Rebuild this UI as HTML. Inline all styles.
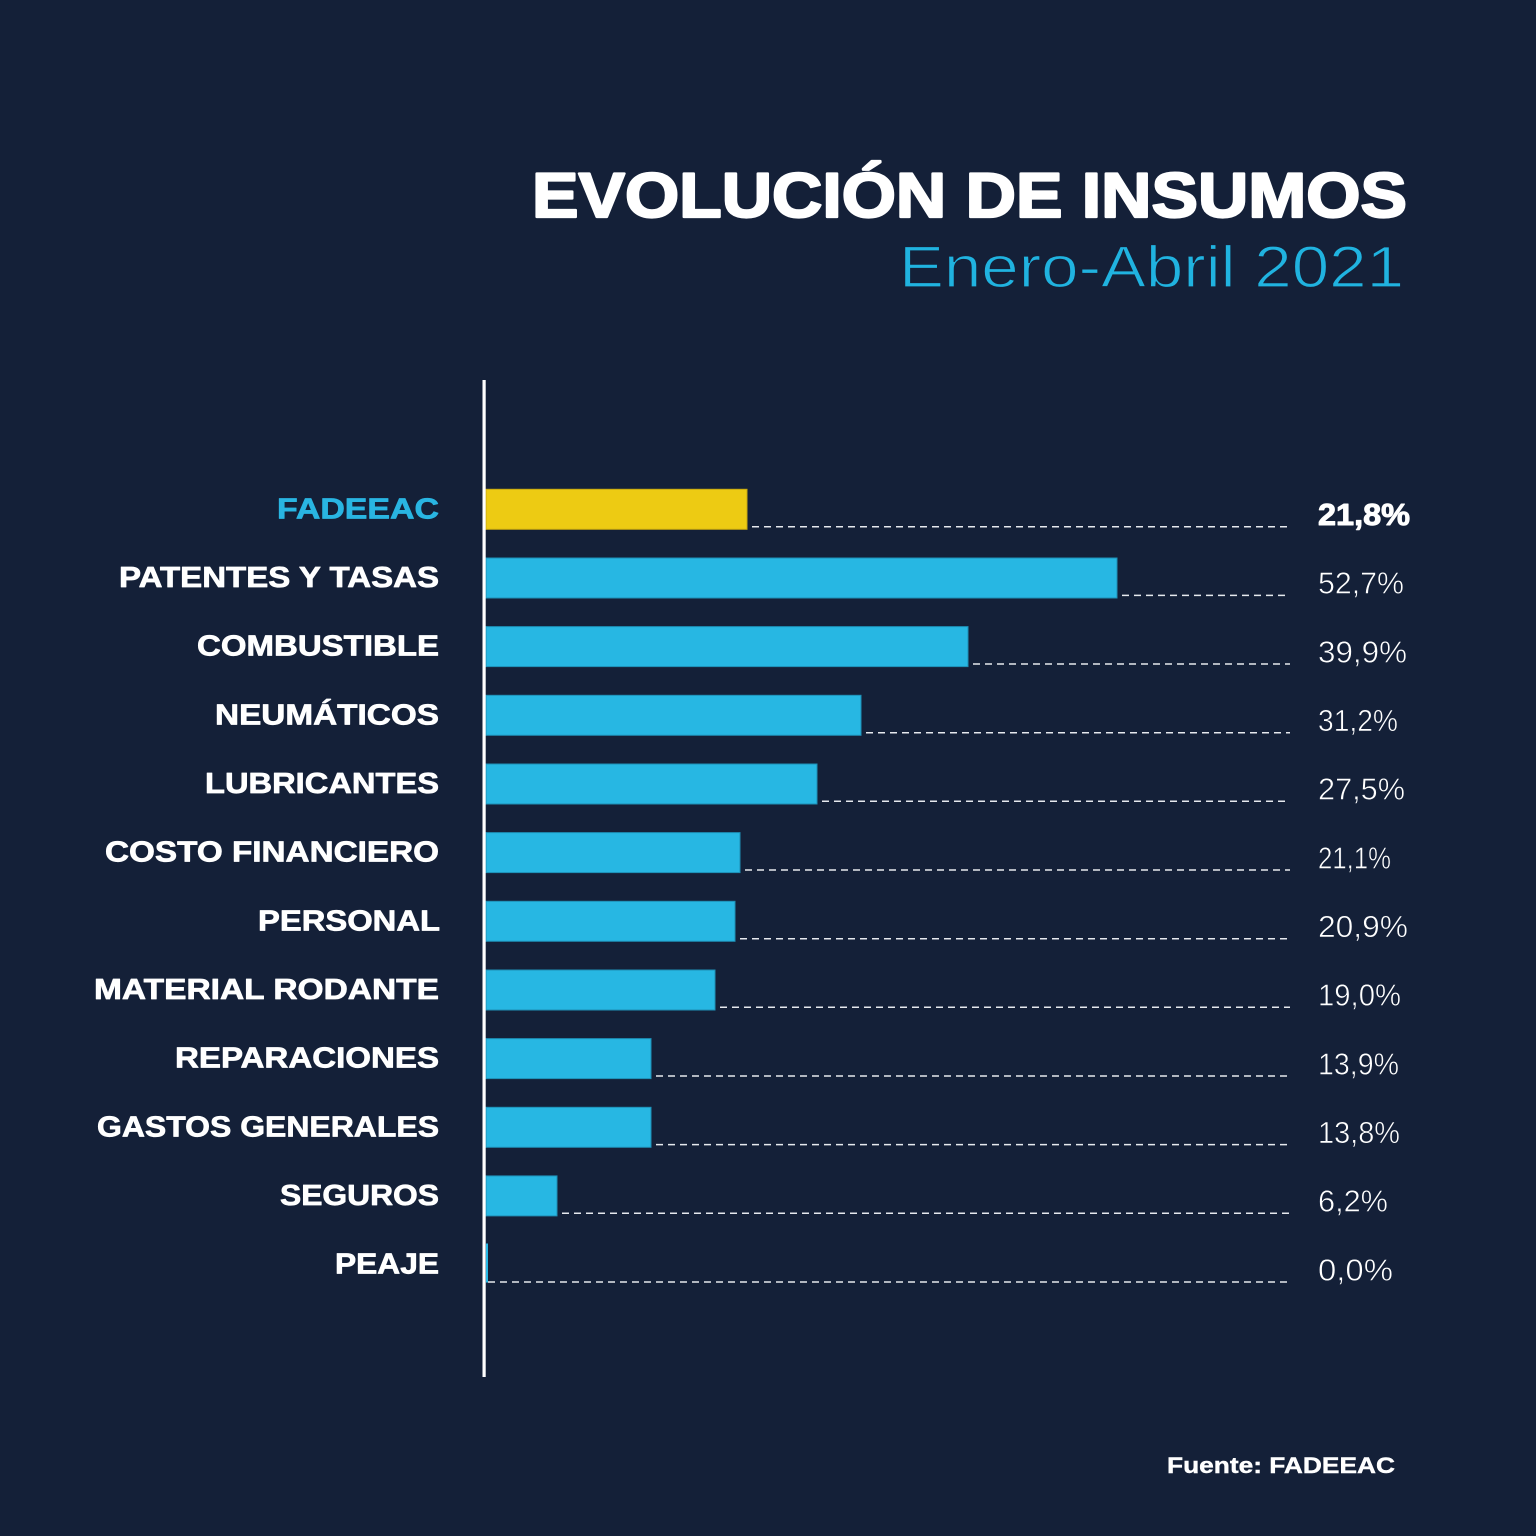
<!DOCTYPE html>
<html>
<head>
<meta charset="utf-8">
<style>
  html,body{margin:0;padding:0;background:#142038;}
  svg{display:block;}
  text{font-family:"Liberation Sans", sans-serif;}
</style>
</head>
<body>
<svg width="1536" height="1536" viewBox="0 0 1536 1536" xmlns="http://www.w3.org/2000/svg">
  <rect x="0" y="0" width="1536" height="1536" fill="#142038"/>

  <!-- Title -->
  <text x="1407" y="217" text-anchor="end" font-size="63" font-weight="bold" fill="#ffffff" stroke="#ffffff" stroke-width="2.2" stroke-linejoin="round" textLength="875" lengthAdjust="spacingAndGlyphs">EVOLUCIÓN DE INSUMOS</text>
  <text x="1404" y="287" text-anchor="end" font-size="58" fill="#20b3e0" stroke="#142038" stroke-width="1.2" textLength="505" lengthAdjust="spacingAndGlyphs">Enero-Abril 2021</text>

  <!-- Dashed guide lines -->
  <g stroke="#e6e9ee" stroke-width="1.5" stroke-dasharray="7 5" fill="none">
    <line x1="752" y1="526.7" x2="1290" y2="526.7"/>
    <line x1="1122" y1="595.4" x2="1290" y2="595.4"/>
    <line x1="973" y1="664.0" x2="1290" y2="664.0"/>
    <line x1="866" y1="732.7" x2="1290" y2="732.7"/>
    <line x1="822" y1="801.3" x2="1290" y2="801.3"/>
    <line x1="745" y1="870.0" x2="1290" y2="870.0"/>
    <line x1="740" y1="938.7" x2="1290" y2="938.7"/>
    <line x1="720" y1="1007.3" x2="1290" y2="1007.3"/>
    <line x1="656" y1="1076.0" x2="1290" y2="1076.0"/>
    <line x1="656" y1="1144.6" x2="1290" y2="1144.6"/>
    <line x1="562" y1="1213.3" x2="1290" y2="1213.3"/>
    <line x1="488" y1="1282.0" x2="1290" y2="1282.0"/>
  </g>

  <!-- Bars -->
  <rect x="486" y="489.3" width="261" height="40" fill="#edcb13" stroke="#c9a90f" stroke-width="1"/>
  <g fill="#27b7e3" stroke="#1e8fb6" stroke-width="1">
    <rect x="486" y="558.0" width="631" height="40"/>
    <rect x="486" y="626.6" width="482" height="40"/>
    <rect x="486" y="695.3" width="375" height="40"/>
    <rect x="486" y="764.0" width="331" height="40"/>
    <rect x="486" y="832.6" width="254" height="40"/>
    <rect x="486" y="901.3" width="249" height="40"/>
    <rect x="486" y="970.0" width="229" height="40"/>
    <rect x="486" y="1038.6" width="165" height="40"/>
    <rect x="486" y="1107.3" width="165" height="40"/>
    <rect x="486" y="1175.9" width="71" height="40"/>
  </g>
  <rect x="486" y="1243.5" width="2" height="39" fill="#27b7e3"/>

  <!-- Axis -->
  <rect x="482.5" y="380" width="3.2" height="997" fill="#ffffff"/>

  <!-- Category labels -->
  <g font-size="28.5" font-weight="bold" fill="#ffffff" stroke="#ffffff" stroke-width="0.7" stroke-linejoin="round" text-anchor="end">
    <text x="439" y="518.3" fill="#29b5e2" stroke="#29b5e2" textLength="162" lengthAdjust="spacingAndGlyphs">FADEEAC</text>
    <text x="439" y="587.0" textLength="320" lengthAdjust="spacingAndGlyphs">PATENTES Y TASAS</text>
    <text x="439" y="655.6" textLength="242" lengthAdjust="spacingAndGlyphs">COMBUSTIBLE</text>
    <text x="439" y="724.3" textLength="224" lengthAdjust="spacingAndGlyphs">NEUMÁTICOS</text>
    <text x="439" y="793.0" textLength="234" lengthAdjust="spacingAndGlyphs">LUBRICANTES</text>
    <text x="439" y="861.6" textLength="334" lengthAdjust="spacingAndGlyphs">COSTO FINANCIERO</text>
    <text x="440" y="930.3" textLength="182" lengthAdjust="spacingAndGlyphs">PERSONAL</text>
    <text x="439" y="999.0" textLength="345" lengthAdjust="spacingAndGlyphs">MATERIAL RODANTE</text>
    <text x="439" y="1067.6" textLength="264" lengthAdjust="spacingAndGlyphs">REPARACIONES</text>
    <text x="439" y="1136.3" textLength="342" lengthAdjust="spacingAndGlyphs">GASTOS GENERALES</text>
    <text x="439" y="1204.9" textLength="159" lengthAdjust="spacingAndGlyphs">SEGUROS</text>
    <text x="439" y="1273.6" textLength="104" lengthAdjust="spacingAndGlyphs">PEAJE</text>
  </g>

  <!-- Values -->
  <text x="1318" y="525" font-size="31" font-weight="bold" fill="#ffffff" stroke="#ffffff" stroke-width="1" stroke-linejoin="round" textLength="92" lengthAdjust="spacingAndGlyphs">21,8%</text>
  <g font-size="30.5" fill="#ffffff" stroke="#142038" stroke-width="0.6">
    <text x="1318" y="593.7" textLength="86" lengthAdjust="spacingAndGlyphs">52,7%</text>
    <text x="1318" y="662.3" textLength="89" lengthAdjust="spacingAndGlyphs">39,9%</text>
    <text x="1318" y="731.0" textLength="80" lengthAdjust="spacingAndGlyphs">31,2%</text>
    <text x="1318" y="799.6" textLength="87" lengthAdjust="spacingAndGlyphs">27,5%</text>
    <text x="1318" y="868.3" textLength="73" lengthAdjust="spacingAndGlyphs">21,1%</text>
    <text x="1318" y="937.0" textLength="90" lengthAdjust="spacingAndGlyphs">20,9%</text>
    <text x="1318" y="1005.6" textLength="83" lengthAdjust="spacingAndGlyphs">19,0%</text>
    <text x="1318" y="1074.3" textLength="81" lengthAdjust="spacingAndGlyphs">13,9%</text>
    <text x="1318" y="1142.9" textLength="82" lengthAdjust="spacingAndGlyphs">13,8%</text>
    <text x="1318" y="1211.6" textLength="70" lengthAdjust="spacingAndGlyphs">6,2%</text>
    <text x="1318" y="1280.3" textLength="75" lengthAdjust="spacingAndGlyphs">0,0%</text>
  </g>

  <!-- Source -->
  <text x="1395" y="1473" text-anchor="end" font-size="22" font-weight="bold" fill="#ffffff" stroke="#ffffff" stroke-width="0.4" textLength="228" lengthAdjust="spacingAndGlyphs">Fuente: FADEEAC</text>
</svg>
</body>
</html>
